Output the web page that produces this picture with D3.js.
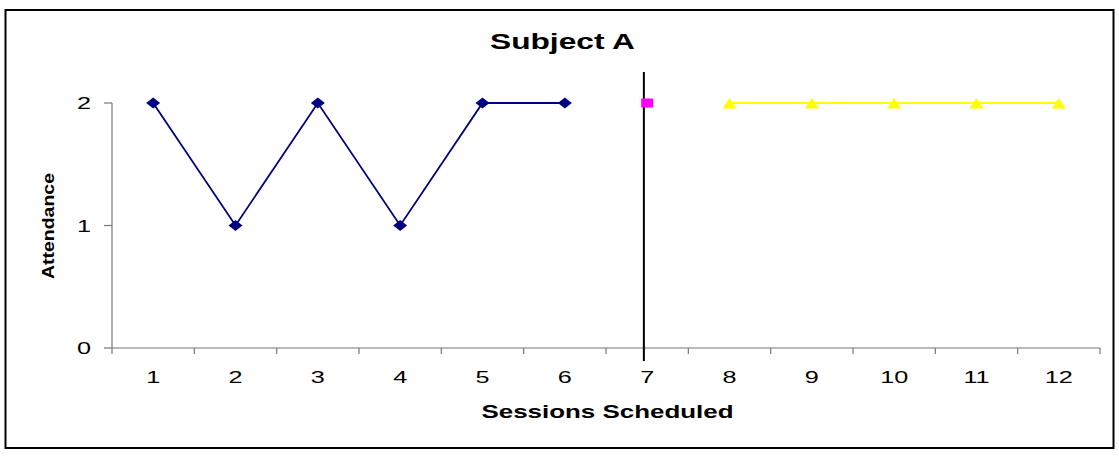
<!DOCTYPE html>
<html><head><meta charset="utf-8">
<script src="https://cdn.jsdelivr.net/npm/d3@7"></script>
<style>body{margin:0;background:#fff}text{font-family:"Liberation Sans",Arial,sans-serif}</style>
</head><body>
<svg id="c" width="1119" height="456"></svg>
<script>
const sessions = [1,2,3,4,5,6,7,8,9,10,11,12];
const baselineSessions = [1,2,3,4,5,6];
const baselineValues = [2,1,2,1,2,2];
const transitionSessions = [7];
const transitionValues = [2];
const treatmentSessions = [8,9,10,11,12];
const treatmentValues = [2,2,2,2,2];
const yTicks = [0,1,2];
const phaseChange = 6.96;
const phaseLineRange = [-0.106, 2.253];

const svg = d3.select("#c");
const SX = 1.45;
svg.append("rect").attr("x",5.5).attr("y",10).attr("width",1108).attr("height",438)
  .attr("fill","#fff").attr("stroke","#000").attr("stroke-width",2);

const x = d3.scaleLinear().domain([0.5,12.5]).range([112,1100]);
const y = d3.scaleLinear().domain([0,2]).range([348,103]);

// x axis
const xa = svg.append("g").attr("transform","translate(0,348)");
xa.append("line").attr("x1",112).attr("x2",1100).attr("stroke","#777").attr("stroke-width",1.2);
xa.selectAll("line.t").data(d3.range(0,13)).join("line").attr("class","t")
  .attr("x1",d=>x(d+0.5)).attr("x2",d=>x(d+0.5)).attr("y1",0).attr("y2",6).attr("stroke","#777").attr("stroke-width",1.2);
xa.selectAll("text").data(sessions).join("text")
  .attr("transform",d=>`translate(${x(d)},35) scale(${SX},1)`)
  .attr("text-anchor","middle").attr("font-size",17.4).attr("fill","#000").text(d=>d);

// y axis
const ya = svg.append("g");
ya.append("line").attr("x1",112).attr("x2",112).attr("y1",y(2)).attr("y2",y(0)).attr("stroke","#777").attr("stroke-width",1.2);
ya.selectAll("line.t").data(yTicks).join("line").attr("class","t")
  .attr("x1",104).attr("x2",112).attr("y1",d=>y(d)).attr("y2",d=>y(d)).attr("stroke","#777").attr("stroke-width",1.2);
ya.selectAll("text").data(yTicks).join("text")
  .attr("transform",d=>`translate(91,${y(d)+6.3}) scale(${SX},1)`)
  .attr("text-anchor","end").attr("font-size",17.4).attr("fill","#000").text(d=>d);

// titles
svg.append("text").attr("x",562.5).attr("y",49).attr("text-anchor","middle")
  .attr("font-size",22.5).attr("font-weight","bold").attr("textLength",145).attr("lengthAdjust","spacingAndGlyphs").text("Subject A");
svg.append("text").attr("x",607.5).attr("y",418).attr("text-anchor","middle")
  .attr("font-size",19).attr("font-weight","bold").attr("textLength",252).attr("lengthAdjust","spacingAndGlyphs").text("Sessions Scheduled");
svg.append("text").attr("transform","translate(53.5,226) rotate(-90)").attr("text-anchor","middle")
  .attr("font-size",16.5).attr("font-weight","bold").attr("textLength",106).attr("lengthAdjust","spacingAndGlyphs").text("Attendance");

// phase line
svg.append("line").attr("x1",x(phaseChange)).attr("x2",x(phaseChange))
  .attr("y1",y(phaseLineRange[1])).attr("y2",y(phaseLineRange[0])).attr("stroke","#000").attr("stroke-width",2);

// baseline series
const bl = baselineSessions.map((s,i)=>[s,baselineValues[i]]);
const line = d3.line().x(d=>x(d[0])).y(d=>y(d[1]));
svg.append("path").attr("d",line(bl)).attr("fill","none").attr("stroke","#000080").attr("stroke-width",1.8);
svg.selectAll("path.dm").data(bl).join("path").attr("class","dm")
  .attr("d","M-7,0L0,-5.5L7,0L0,5.5Z").attr("transform",d=>`translate(${x(d[0])},${y(d[1])})`).attr("fill","#000080");

// transition
const tr = transitionSessions.map((s,i)=>[s,transitionValues[i]]);
svg.selectAll("rect.sq").data(tr).join("rect").attr("class","sq")
  .attr("x",d=>x(d[0])-6).attr("y",d=>y(d[1])-4.5).attr("width",12).attr("height",9).attr("fill","#ff00ff");

// treatment
const tt = treatmentSessions.map((s,i)=>[s,treatmentValues[i]]);
svg.append("path").attr("d",line(tt)).attr("fill","none").attr("stroke","#ffff00").attr("stroke-width",2);
svg.selectAll("path.tri").data(tt).join("path").attr("class","tri")
  .attr("d","M-7,5.5L0,-5L7,5.5Z").attr("transform",d=>`translate(${x(d[0])},${y(d[1])})`).attr("fill","#ffff00");
</script>
</body></html>
